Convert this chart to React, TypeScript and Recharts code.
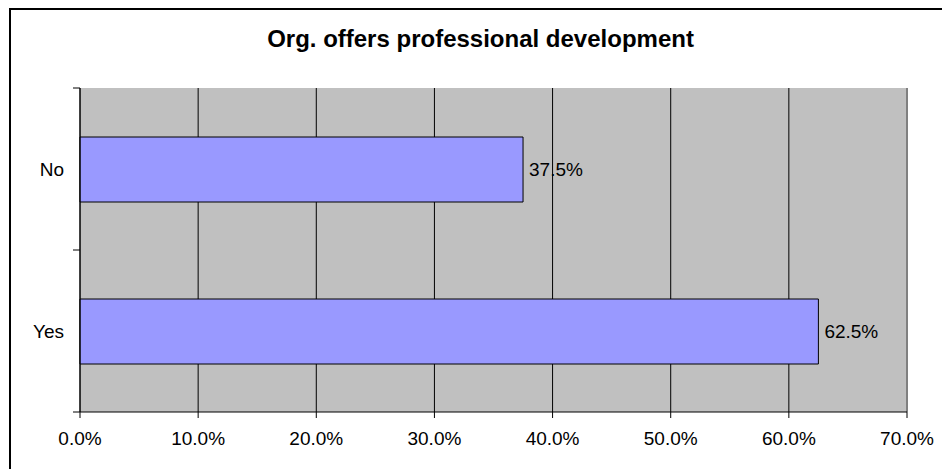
import React from "react";
import {
  BarChart,
  Bar,
  XAxis,
  YAxis,
  CartesianGrid,
  ReferenceLine,
  LabelList,
} from "recharts";

const categories = ["No", "Yes"];
const shares = [37.5, 62.5];
const xTicks = [0, 10, 20, 30, 40, 50, 60, 70];
const title = "Org. offers professional development";

const data = categories.map((name, i) => ({ name, value: shares[i] }));

const W = 942;
const H = 469;
const PLOT_LEFT = 80;
const PLOT_TOP = 88;
const PLOT_BOTTOM = 412;
const HALF_BAND = (PLOT_BOTTOM - PLOT_TOP) / categories.length / 2;
const FONT = "'Liberation Sans', Arial, sans-serif";

const pct = (v: number) => `${Number(v).toFixed(1)}%`;

function CategoryTick(props: any) {
  const { y, payload, index } = props;
  const last = index === categories.length - 1;
  return (
    <g>
      <line
        x1={PLOT_LEFT - 7}
        x2={PLOT_LEFT}
        y1={y - HALF_BAND}
        y2={y - HALF_BAND}
        stroke="#000"
      />
      {last && (
        <line
          x1={PLOT_LEFT - 7}
          x2={PLOT_LEFT}
          y1={y + HALF_BAND}
          y2={y + HALF_BAND}
          stroke="#000"
        />
      )}
      <text
        x={PLOT_LEFT - 16}
        y={y}
        dy="0.35em"
        textAnchor="end"
        fill="#000"
        fontSize={19}
        fontFamily={FONT}
      >
        {payload.value}
      </text>
    </g>
  );
}

export default function App() {
  return (
    <div
      style={{
        position: "absolute",
        left: 0,
        top: 0,
        width: W,
        height: H,
        overflow: "hidden",
        background: "#fff",
      }}
    >
      <div
        style={{
          position: "absolute",
          left: 9,
          top: 8,
          width: 1000,
          height: 600,
          borderLeft: "2px solid #000",
          borderTop: "2px solid #000",
        }}
      />
      <div
        style={{
          position: "absolute",
          left: 0,
          top: 25,
          width: 961,
          textAlign: "center",
          fontFamily: FONT,
          fontWeight: "bold",
          fontSize: 24,
          color: "#000",
        }}
      >
        {title}
      </div>
      <div style={{ position: "absolute", left: 0, top: 0 }}>
        <BarChart
          width={W}
          height={H}
          data={data}
          layout="vertical"
          margin={{ top: PLOT_TOP, right: 35, bottom: 27, left: 20 }}
        >
          <CartesianGrid
            horizontal={false}
            stroke="#000"
            fill="#C0C0C0"
            fillOpacity={1}
          />
          <XAxis
            type="number"
            domain={[0, 70]}
            ticks={xTicks}
            tickFormatter={pct}
            height={30}
            axisLine={{ stroke: "#000" }}
            tickLine={{ stroke: "#000" }}
            tickSize={6}
            tickMargin={14}
            tick={{ fill: "#000", fontSize: 19, fontFamily: FONT }}
          />
          <XAxis
            xAxisId="top"
            orientation="top"
            type="number"
            domain={[0, 70]}
            height={0}
            tick={false}
            tickLine={false}
            axisLine={{ stroke: "#808080", strokeWidth: 2 }}
          />
          <YAxis
            type="category"
            dataKey="name"
            width={60}
            axisLine={{ stroke: "#000" }}
            tickLine={false}
            tick={<CategoryTick />}
          />
          <ReferenceLine x={70} stroke="#808080" strokeWidth={2} />
          <Bar
            dataKey="value"
            fill="#9999FF"
            stroke="#000"
            strokeWidth={1}
            barSize={65}
            isAnimationActive={false}
          >
            <LabelList
              dataKey="value"
              position="right"
              offset={6}
              formatter={(v: any) => pct(v)}
              fill="#000"
              fontSize={19}
              fontFamily={FONT}
            />
          </Bar>
        </BarChart>
      </div>
    </div>
  );
}
